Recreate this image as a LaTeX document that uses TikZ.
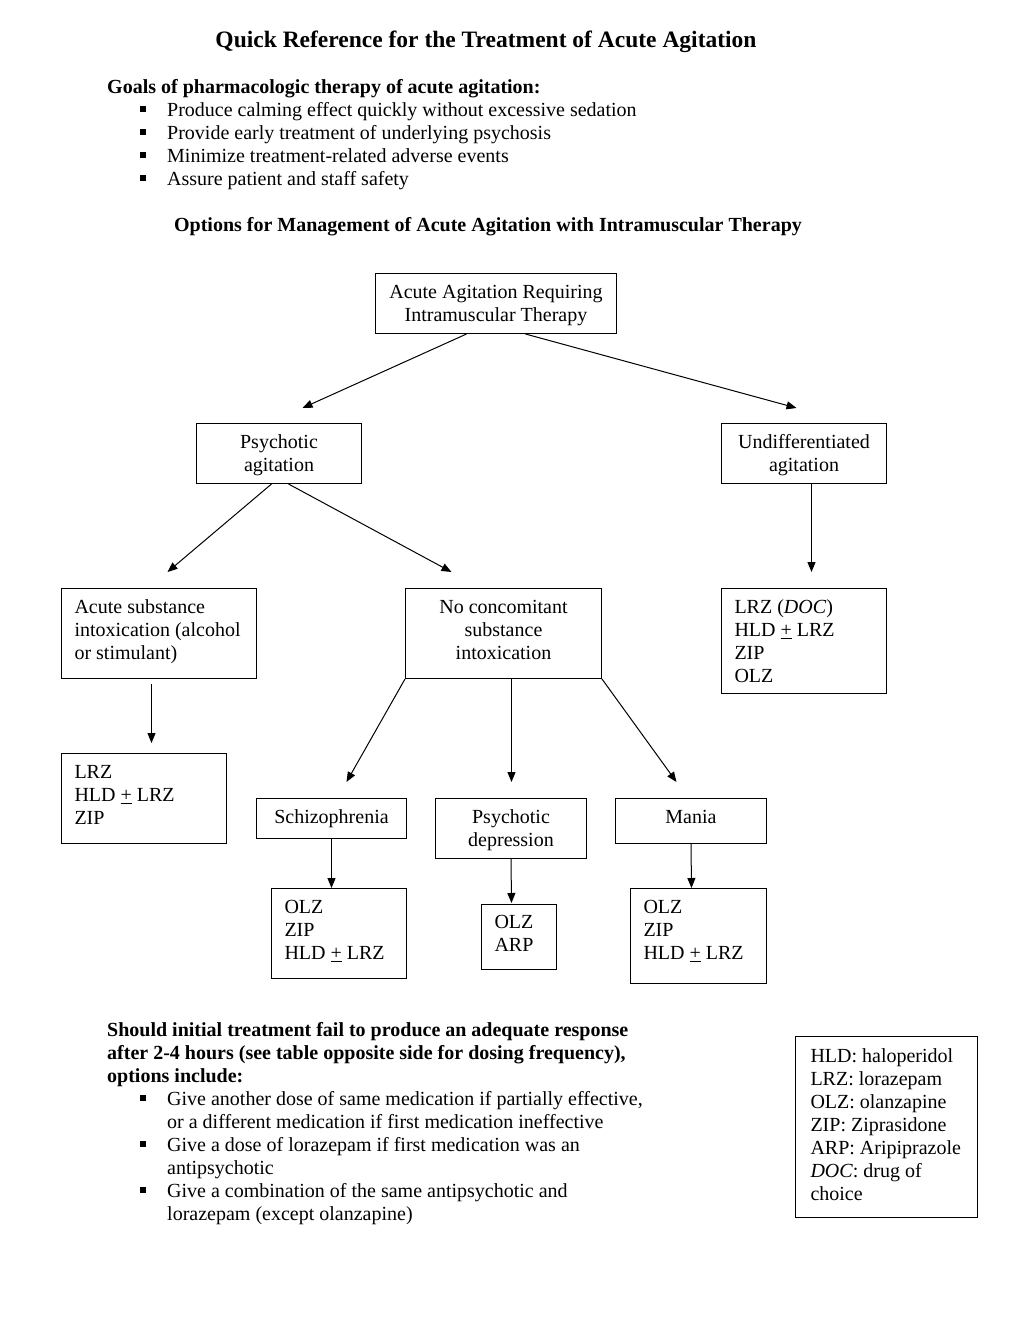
\documentclass[tikz,border=0pt]{standalone}
\usepackage{fontspec}
\setmainfont{Liberation Serif}
\usetikzlibrary{arrows.meta,calc}

\tikzset{
  box/.style={draw, line width=1pt, inner xsep=0pt, inner ysep=0pt, align=flush center,
    text height=25pt, anchor=north west, font=\fontsize{20}{23}\selectfont\frenchspacing},
  lbox/.style={box, align=flush left, execute at begin node={\leftskip=13pt}},
  arr/.style={line width=1pt, -{Triangle[length=10pt,width=8pt]}},
  txt/.style={anchor=base west, inner sep=0pt, font=\fontsize{20}{23}\selectfont\frenchspacing},
  head/.style={txt, font=\fontsize{20}{23}\selectfont\bfseries\frenchspacing},
}
\newcommand{\sqbullet}{\rule[4pt]{6pt}{6pt}\hspace{21pt}}

\begin{document}
\frenchspacing\hyphenpenalty=10000
\begin{tikzpicture}[x=1pt, y=-1pt]
    \useasboundingbox (0, 0) rectangle (1020, 1320);

    % headings and goals
    \node [anchor=base, inner sep=0pt, font=\fontsize{23.5}{26}\selectfont\bfseries]
        (title) at (486, 47) {Quick Reference for the Treatment of Acute Agitation};
    \node [head] (goals) at (107, 93) {Goals of pharmacologic therapy of acute agitation:};
    \foreach \t [count=\i] in {Produce calming effect quickly without excessive sedation,
        Provide early treatment of underlying psychosis,
        Minimize treatment-related adverse events,
        Assure patient and staff safety}
        \node [txt] (goal\i) at (140, 93+23*\i) {\sqbullet\t};
    \node [head, anchor=base] (options) at (488, 231)
        {Options for Management of Acute Agitation with Intramuscular Therapy};

    % boxes
    \node [box, text width=241pt, text depth=35pt] (top) at (375, 273)
        {Acute Agitation Requiring\\Intramuscular Therapy};
    \node [box, text width=165pt, text depth=35pt] (psy) at (196, 423)
        {Psychotic\\agitation};
    \node [box, text width=165pt, text depth=35pt] (und) at (721, 423)
        {Undifferentiated\\agitation};
    \node [lbox, text width=195pt, text depth=65pt] (sub) at (61, 588)
        {Acute substance\\intoxication (alcohol\\or stimulant)};
    \node [box, text width=196pt, text depth=65pt] (noc) at (405, 588)
        {No concomitant\\substance\\intoxication};
    \node [lbox, text width=165pt, text depth=80pt] (ulist) at (721, 588)
        {LRZ (\textit{DOC})\\HLD \underline{+} LRZ\\ZIP\\OLZ};
    \node [lbox, text width=165pt, text depth=65pt] (slist) at (61, 753)
        {LRZ\\HLD \underline{+} LRZ\\ZIP};
    \node [box, text width=150pt, text depth=15pt] (schz) at (256, 798)
        {Schizophrenia};
    \node [box, text width=151pt, text depth=35pt] (pdep) at (435, 798)
        {Psychotic\\depression};
    \node [box, text width=151pt, text depth=20pt] (mania) at (615, 798)
        {Mania};
    \node [lbox, text width=135pt, text depth=65pt] (zlist) at (271, 888)
        {OLZ\\ZIP\\HLD \underline{+} LRZ};
    \node [lbox, text width=75pt, text depth=41pt, text height=24pt] (alist) at (481, 904)
        {OLZ\\ARP};
    \node [lbox, text width=136pt, text depth=70pt] (mlist) at (630, 888)
        {OLZ\\ZIP\\HLD \underline{+} LRZ};

    % arrows
    \draw [arr] ($(top.south)+(-29.5,0)$) -- ($(psy.north)+(23.5,-15)$);
    \draw [arr] ($(top.south)+(29.5,0)$) -- ($(und.north)+(-7.5,-15)$);
    \draw [arr] ($(psy.south)+(-7.5,0)$) -- ($(sub.north)+(8.5,-16)$);
    \draw [arr] ($(psy.south)+(9.5,0)$) -- ($(noc.north)+(-52,-16)$);
    \draw [arr] ($(und.south)+(7.5,0)$) -- ($(ulist.north)+(7.5,-16)$);
    \draw [arr] ($(sub.south)+(-7.5,5)$) -- ($(slist.north)+(7.5,-10)$);
    \draw [arr] (noc.south west) -- ($(schz.north)+(15,-16)$);
    \draw [arr] ($(noc.south)+(8,0)$) -- ($(pdep.north)+(0.5,-16)$);
    \draw [arr] (noc.south east) -- ($(mania.north)+(-14.5,-16)$);
    \draw [arr] (schz.south) -- ($(zlist.north)+(-7.5,0)$);
    \draw [arr] (pdep.south) -- ($(alist.north)+(-7.5,-1)$);
    \draw [arr] (mania.south) -- ($(mlist.north)+(-7,0)$);

    % follow-up options
    \node [head] (fail1) at (107, 1036) {Should initial treatment fail to produce an adequate response};
    \node [head] (fail2) at (107, 1059) {after 2-4 hours (see table opposite side for dosing frequency),};
    \node [head] (fail3) at (107, 1082) {options include:};
    \node [txt] (opt1) at (140, 1105) {\sqbullet Give another dose of same medication if partially effective,};
    \node [txt] (opt1b) at (167, 1128) {or a different medication if first medication ineffective};
    \node [txt] (opt2) at (140, 1151) {\sqbullet Give a dose of lorazepam if first medication was an};
    \node [txt] (opt2b) at (167, 1174) {antipsychotic};
    \node [txt] (opt3) at (140, 1197) {\sqbullet Give a combination of the same antipsychotic and};
    \node [txt] (opt3b) at (167, 1220) {lorazepam (except olanzapine)};

    % legend
    \node [box, align=flush left, execute at begin node={\leftskip=15pt}, text width=182pt,
        text height=26pt, text depth=155pt] (legend) at (795, 1036)
        {HLD: haloperidol\\LRZ: lorazepam\\OLZ: olanzapine\\ZIP: Ziprasidone\\ARP: Aripiprazole\\\textit{DOC}: drug of\\choice};
\end{tikzpicture}
\end{document}
